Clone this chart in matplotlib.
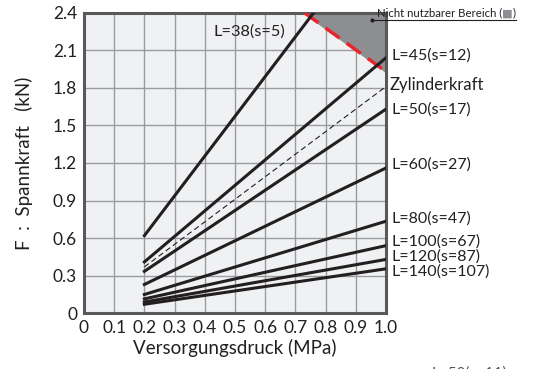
import matplotlib
matplotlib.use('Agg')
import matplotlib.pyplot as plt

plt.rcParams['font.family'] = ['Lato', 'DejaVu Sans']

# pressure points (MPa) and clamping force (kN) per curve
pressure = [0.2, 1.0]
labels = ['L=38(s=5)', 'L=45(s=12)', 'L=50(s=17)', 'L=60(s=27)',
          'L=80(s=47)', 'L=100(s=67)', 'L=120(s=87)', 'L=140(s=107)']
forces = [[0.62, 3.16], [0.41, 2.04], [0.335, 1.63], [0.23, 1.16],
          [0.15, 0.735], [0.115, 0.54], [0.09, 0.43], [0.072, 0.355]]
cyl_force = [0.37, 1.81]
# label heights at right side (kN)
label_y = [2.25, 2.06, 1.63, 1.19, 0.757, 0.574, 0.454, 0.335]
cyl_label_y = 1.82

# border of the not usable range
limit_p = [0.73, 1.0]
limit_f = [2.4, 1.93]

xticks = [0, 0.1, 0.2, 0.3, 0.4, 0.5, 0.6, 0.7, 0.8, 0.9, 1.0]
xticklabels = ['0', '0.1', '0.2', '0.3', '0.4', '0.5', '0.6', '0.7', '0.8', '0.9', '1.0']
yticks = [0, 0.3, 0.6, 0.9, 1.2, 1.5, 1.8, 2.1, 2.4]
yticklabels = ['0', '0.3', '0.6', '0.9', '1.2', '1.5', '1.8', '2.1', '2.4']

fig = plt.figure(figsize=(5.46, 3.69), dpi=100)
ax = fig.add_axes([0.1538, 0.151, 0.5531, 0.8146])
ax.set_facecolor('#f0f1f3')

ax.set_xlim(0, 1.0)
ax.set_ylim(0, 2.4)
ax.set_xticks(xticks)
ax.set_xticklabels(xticklabels)
ax.set_yticks(yticks)
ax.set_yticklabels(yticklabels)
ax.tick_params(length=0, labelsize=12.5, pad=5, colors='#231f20')
ax.grid(True, color='#9a9b9e', linewidth=1.0)
ax.set_axisbelow(True)
for sp in ax.spines.values():
    sp.set_color('#58595b')
    sp.set_linewidth(2.2)

# gray area (not usable)
ax.fill([limit_p[0], 1.0, 1.0], [2.4, 2.4, limit_f[1]], color='#8d8e92', zorder=1.5)
ax.plot(limit_p, limit_f, color='#e8262a', linewidth=2.5, dashes=(5, 2.5), zorder=3)

for f in forces:
    ax.plot(pressure, f, color='#231f20', linewidth=2.2, zorder=4)
ax.plot(pressure, cyl_force, color='#231f20', linewidth=0.8, dashes=(5, 3), zorder=4)

ax.text(0.43, label_y[0], labels[0], fontsize=11.8, va='center', ha='left', color='#231f20')
for lab, ly in zip(labels[1:], label_y[1:]):
    ax.text(1.018, ly, lab, fontsize=11.5, va='center', ha='left', color='#231f20', clip_on=False)
ax.text(1.012, cyl_label_y, 'Zylinderkraft', fontsize=12, va='center', ha='left',
        color='#231f20', clip_on=False)

# callout for the gray area
ax.plot([0.954, 1.432], [2.34, 2.34], color='#231f20', linewidth=0.8, clip_on=False, zorder=5)
ax.plot([0.954], [2.34], 'o', color='#231f20', markersize=2, zorder=5)
t1 = ax.text(0.97, 2.355, 'Nicht nutzbarer Bereich (', fontsize=8.2, va='bottom', ha='left',
             color='#231f20', clip_on=False)
fig.canvas.draw()
bb = t1.get_window_extent()
x_end = ax.transData.inverted().transform((bb.x1, bb.y0))[0]
t2 = ax.text(x_end, 2.355, '\u25a0', fontsize=8.2, va='bottom', ha='left', color='#8d8e92',
             clip_on=False)
fig.canvas.draw()
bb2 = t2.get_window_extent()
x_end2 = ax.transData.inverted().transform((bb2.x1, bb2.y0))[0]
ax.text(x_end2, 2.355, ')', fontsize=8.2, va='bottom', ha='left', color='#231f20', clip_on=False)

ax.set_xlabel('Versorgungsdruck (MPa)', fontsize=13.5, labelpad=2, color='#231f20')
ax.set_ylabel('F  :  Spannkraft   (kN)', fontsize=13.5, labelpad=14, color='#231f20')

# partly cut label at the bottom edge
fig.text(0.79, -0.012, 'L=50(s=11)', fontsize=11, va='center', ha='left', color='#555555')

fig.savefig('out.png', dpi=100)
